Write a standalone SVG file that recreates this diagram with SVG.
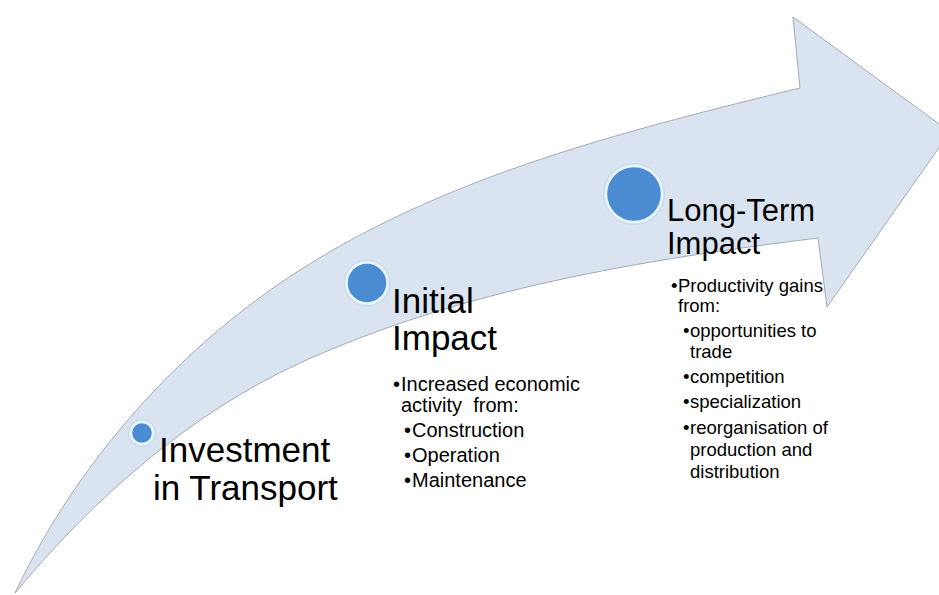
<svg xmlns="http://www.w3.org/2000/svg" width="939" height="595" viewBox="0 0 939 595">
<style>
.bg{fill:#ffffff}
.arrow{fill:#dae4f0;stroke:#a3abb5;stroke-width:1;stroke-linejoin:miter}
.dot{fill:#4a8bd1;stroke:#e9f5fc;stroke-width:2.5}
.glow{fill:none;stroke:#b9ddf3;stroke-width:1}
.h{font-family:"Liberation Sans",Arial,sans-serif;fill:#000}
.b{font-family:"Liberation Sans",Arial,sans-serif;fill:#000}
</style>
<rect class="bg" x="0" y="0" width="939" height="595"/>
<g id="connectors">
<path id="arrow" class="arrow" d="M15,593 C76.5,463 178.6,347.5 300,270 C449,174.8 628,130 800,88 L793,17 L950,132 L827,307 L818,238 C641,260 462,289 300,363 C189,414 93,499 15,593 Z"/>
</g>
<g id="node-investment">
<circle class="glow" cx="142" cy="433" r="13.5"/>
<circle class="dot" cx="142" cy="433" r="11"/>
<text class="h" font-size="35"><tspan x="159" y="462">Investment</tspan><tspan x="153" y="500">in Transport</tspan></text>
</g>
<g id="node-initial">
<circle class="glow" cx="367" cy="283" r="23"/>
<circle class="dot" cx="367" cy="283" r="20.5"/>
<text class="h" font-size="35"><tspan x="392" y="313">Initial</tspan><tspan x="392" y="350">Impact</tspan></text>
<g class="b" font-size="20">
<text x="393" y="391">•</text>
<text x="401" y="391">Increased economic</text>
<text x="401" y="412" xml:space="preserve">activity  from:</text>
<text x="404" y="437">•</text>
<text x="412" y="437">Construction</text>
<text x="404" y="462">•</text>
<text x="412" y="462">Operation</text>
<text x="404" y="487">•</text>
<text x="412" y="487">Maintenance</text>
</g>
</g>
<g id="node-longterm">
<circle class="glow" cx="634" cy="194" r="30.5"/>
<circle class="dot" cx="634" cy="194" r="28"/>
<text class="h" font-size="31"><tspan x="667" y="221">Long-Term</tspan><tspan x="667" y="254">Impact</tspan></text>
<g class="b" font-size="18.5">
<text x="671" y="292">•</text>
<text x="678" y="292">Productivity gains</text>
<text x="678" y="312">from:</text>
<text x="683" y="337">•</text>
<text x="690" y="337">opportunities to</text>
<text x="690" y="358">trade</text>
<text x="683" y="383">•</text>
<text x="690" y="383">competition</text>
<text x="683" y="408">•</text>
<text x="690" y="408">specialization</text>
<text x="683" y="434">•</text>
<text x="690" y="434">reorganisation of</text>
<text x="690" y="456">production and</text>
<text x="690" y="478">distribution</text>
</g>
</g>
</svg>
